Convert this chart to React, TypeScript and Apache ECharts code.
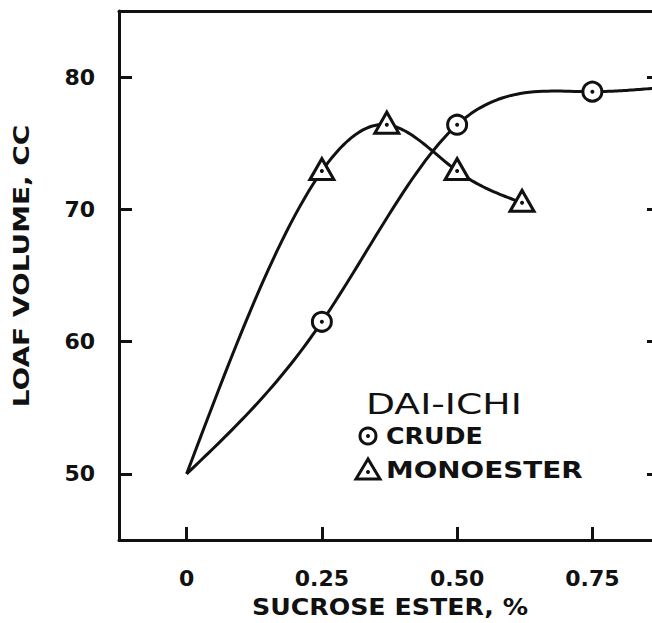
import React, { useEffect, useRef } from "react";
import * as echarts from "echarts";

// ---- data ----
const xTicks = [0, 0.25, 0.5, 0.75];
const xTickLabels = ["0", "0.25", "0.50", "0.75"];
const yTicks = [50, 60, 70, 80];

const originPoint = [0, 50];

const crudeX = [0.25, 0.5, 0.75];
const crudeY = [61.5, 76.4, 78.9];
const crudeCurveEnd = [0.875, 79.2];

const monoX = [0.25, 0.37, 0.5, 0.62];
const monoY = [72.9, 76.4, 72.9, 70.5];

const legendTitle = "DAI-ICHI";
const legendCrude = "CRUDE";
const legendMono = "MONOESTER";
const xTitle = "SUCROSE ESTER, %";
const yTitle = "LOAF VOLUME, CC";

// Natural cubic spline y(x) through pixel points (rendering only)
function splinePoints(px: number[][], steps = 30): number[][] {
  const n = px.length;
  const xs = px.map((p) => p[0]);
  const ys = px.map((p) => p[1]);
  const h: number[] = [];
  for (let i = 0; i < n - 1; i++) h.push(xs[i + 1] - xs[i]);
  const M = new Array(n).fill(0);
  if (n > 2) {
    const m = n - 2;
    const a = new Array(m).fill(0);
    const b = new Array(m).fill(0);
    const c = new Array(m).fill(0);
    const r = new Array(m).fill(0);
    for (let k = 0; k < m; k++) {
      const i = k + 1;
      a[k] = h[i - 1];
      b[k] = 2 * (h[i - 1] + h[i]);
      c[k] = h[i];
      r[k] = 6 * ((ys[i + 1] - ys[i]) / h[i] - (ys[i] - ys[i - 1]) / h[i - 1]);
    }
    for (let k = 1; k < m; k++) {
      const w = a[k] / b[k - 1];
      b[k] -= w * c[k - 1];
      r[k] -= w * r[k - 1];
    }
    const sol = new Array(m).fill(0);
    sol[m - 1] = r[m - 1] / b[m - 1];
    for (let k = m - 2; k >= 0; k--) sol[k] = (r[k] - c[k] * sol[k + 1]) / b[k];
    for (let k = 0; k < m; k++) M[k + 1] = sol[k];
  }
  const out: number[][] = [];
  for (let i = 0; i < n - 1; i++) {
    for (let s = 0; s <= steps; s++) {
      if (i > 0 && s === 0) continue;
      const t = s / steps;
      const x = xs[i] + t * h[i];
      const A = 1 - t;
      const B = t;
      const y =
        A * ys[i] +
        B * ys[i + 1] +
        ((A * A * A - A) * M[i] + (B * B * B - B) * M[i + 1]) * (h[i] * h[i]) / 6;
      out.push([x, y]);
    }
  }
  return out;
}

export default function App() {
  const ref = useRef<HTMLDivElement>(null);

  useEffect(() => {
    if (!ref.current) return;
    const chart = echarts.init(ref.current, null, { renderer: "svg" });

    const crudePts = crudeX.map((x, i) => [x, crudeY[i]]);
    const monoPts = monoX.map((x, i) => [x, monoY[i]]);
    const crudeLine = [originPoint, ...crudePts, crudeCurveEnd];
    const monoLine = [originPoint, ...monoPts];

    const ink = "#111";
    const labelFont = {
      fontFamily: "DejaVu Sans",
      fontWeight: "bold" as const,
      fontSize: 22,
      color: ink,
    };

    const curveSeries = (name: string, pts: number[][]) => ({
      name,
      type: "custom",
      data: pts,
      encode: { x: 0, y: 1 },
      clip: true,
      z: 2,
      renderItem: (params: any, api: any) => {
        if (params.dataIndex !== 0) return null;
        const px = pts.map((p) => api.coord(p));
        return {
          type: "polyline",
          shape: { points: splinePoints(px) },
          style: { stroke: ink, lineWidth: 3, fill: null, lineJoin: "round" },
        };
      },
    });

    chart.setOption({
      animation: false,
      backgroundColor: "#fff",
      grid: {
        left: 119,
        top: 11,
        right: 5,
        bottom: 83,
        containLabel: false,
        outerBoundsMode: "none",
      },
      xAxis: [
        {
          type: "value",
          min: -0.125,
          max: 0.875,
          position: "bottom",
          axisLine: { show: true, onZero: false, lineStyle: { color: ink, width: 3 } },
          axisTick: {
            show: true,
            inside: true,
            length: 13,
            customValues: xTicks,
            lineStyle: { color: ink, width: 3 },
          },
          axisLabel: {
            show: true,
            customValues: xTicks,
            margin: 27,
            formatter: (v: number) => {
              const i = xTicks.findIndex((t) => Math.abs(t - v) < 1e-6);
              return i >= 0 ? xTickLabels[i] : "";
            },
            ...labelFont,
          },
          splitLine: { show: false },
        },
        {
          type: "value",
          min: -0.125,
          max: 0.875,
          position: "top",
          axisLine: { show: true, onZero: false, lineStyle: { color: ink, width: 3 } },
          axisTick: { show: false },
          axisLabel: { show: false },
          splitLine: { show: false },
        },
      ],
      yAxis: [
        {
          type: "value",
          min: 45,
          max: 85,
          position: "left",
          axisLine: { show: true, onZero: false, lineStyle: { color: ink, width: 3 } },
          axisTick: {
            show: true,
            inside: true,
            length: 13,
            customValues: yTicks,
            lineStyle: { color: ink, width: 3 },
          },
          axisLabel: {
            show: true,
            customValues: yTicks,
            margin: 24,
            ...labelFont,
          },
          splitLine: { show: false },
        },
        {
          type: "value",
          min: 45,
          max: 85,
          position: "right",
          axisLine: { show: true, onZero: false, lineStyle: { color: ink, width: 3 } },
          axisTick: {
            show: true,
            inside: true,
            length: 13,
            customValues: yTicks,
            lineStyle: { color: ink, width: 3 },
          },
          axisLabel: { show: false },
          splitLine: { show: false },
        },
      ],
      series: [
        curveSeries("Crude curve", crudeLine),
        curveSeries("Monoester curve", monoLine),
        {
          name: "Crude",
          type: "scatter",
          data: crudePts,
          symbol: "circle",
          symbolSize: 19,
          itemStyle: { color: "#fff", borderColor: ink, borderWidth: 3, opacity: 1 },
          z: 3,
        },
        {
          name: "Monoester",
          type: "scatter",
          data: monoPts,
          symbol: "triangle",
          symbolSize: [24, 21],
          symbolOffset: [0, -2],
          itemStyle: { color: "#fff", borderColor: ink, borderWidth: 3, opacity: 1 },
          z: 3,
        },
        {
          name: "Crude dot",
          type: "scatter",
          data: crudePts,
          symbol: "circle",
          symbolSize: 4,
          itemStyle: { color: ink, opacity: 1 },
          z: 4,
        },
        {
          name: "Monoester dot",
          type: "scatter",
          data: monoPts,
          symbol: "circle",
          symbolSize: 4,
          itemStyle: { color: ink, opacity: 1 },
          z: 4,
        },
      ],
      graphic: [
        {
          type: "text",
          x: 390,
          y: 607,
          scaleX: 1.1,
          style: {
            text: xTitle,
            font: 'bold 23px "DejaVu Sans"',
            fill: ink,
            textAlign: "center",
            textVerticalAlign: "middle",
          },
        },
        {
          type: "text",
          x: 22,
          y: 266,
          rotation: Math.PI / 2,
          scaleX: 1.27,
          style: {
            text: yTitle,
            font: 'bold 22px "DejaVu Sans"',
            fill: ink,
            textAlign: "center",
            textVerticalAlign: "middle",
          },
        },
        {
          type: "text",
          x: 366,
          y: 404,
          scaleX: 1.3,
          style: {
            text: legendTitle,
            font: '29px "DejaVu Sans"',
            fill: ink,
            textAlign: "left",
            textVerticalAlign: "middle",
          },
        },
        {
          type: "text",
          x: 386,
          y: 436,
          scaleX: 1.1,
          style: {
            text: legendCrude,
            font: 'bold 23px "DejaVu Sans"',
            fill: ink,
            textAlign: "left",
            textVerticalAlign: "middle",
          },
        },
        {
          type: "text",
          x: 386,
          y: 470,
          scaleX: 1.21,
          style: {
            text: legendMono,
            font: 'bold 23px "DejaVu Sans"',
            fill: ink,
            textAlign: "left",
            textVerticalAlign: "middle",
          },
        },
        {
          type: "circle",
          shape: { cx: 368, cy: 436, r: 8 },
          style: { fill: "#fff", stroke: ink, lineWidth: 3 },
        },
        {
          type: "circle",
          shape: { cx: 368, cy: 436, r: 2 },
          style: { fill: ink },
        },
        {
          type: "polygon",
          shape: {
            points: [
              [368, 459],
              [356, 479],
              [380, 479],
            ],
          },
          style: { fill: "#fff", stroke: ink, lineWidth: 3, lineJoin: "miter" },
        },
        {
          type: "circle",
          shape: { cx: 368, cy: 472, r: 2 },
          style: { fill: ink },
        },
      ],
    });

    return () => chart.dispose();
  }, []);

  return (
    <div
      style={{
        position: "absolute",
        left: 0,
        top: 0,
        width: 652,
        height: 623,
        overflow: "hidden",
        background: "#fff",
      }}
    >
      <div ref={ref} style={{ width: 665, height: 623 }} />
    </div>
  );
}
